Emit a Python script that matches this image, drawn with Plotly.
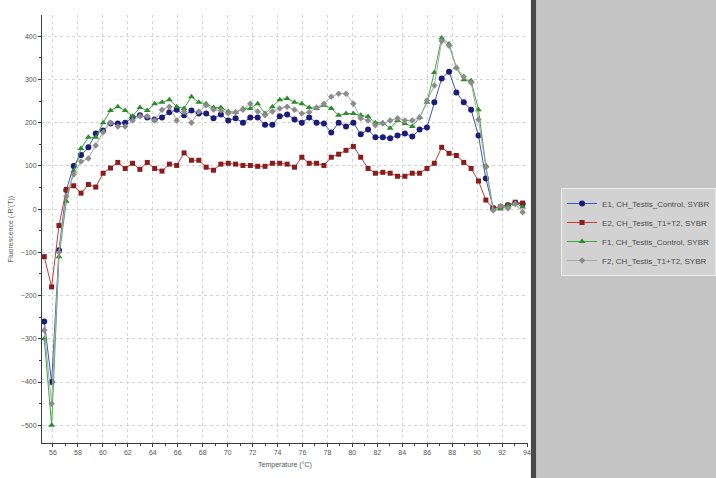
import plotly.graph_objects as go

temps = [55.30, 55.89, 56.48, 57.07, 57.66, 58.25, 58.84, 59.43, 60.02, 60.61,
         61.20, 61.79, 62.38, 62.97, 63.56, 64.15, 64.74, 65.33, 65.92, 66.51,
         67.10, 67.69, 68.28, 68.87, 69.46, 70.05, 70.64, 71.23, 71.82, 72.41,
         73.00, 73.59, 74.18, 74.77, 75.36, 75.95, 76.54, 77.13, 77.72, 78.31,
         78.90, 79.49, 80.08, 80.67, 81.26, 81.85, 82.44, 83.03, 83.62, 84.21,
         84.80, 85.39, 85.98, 86.57, 87.16, 87.75, 88.34, 88.93, 89.52, 90.11,
         90.70, 91.29, 91.88, 92.47, 93.06, 93.65]

e1_control = [-260, -400, -95, 44, 100, 125, 143, 175, 182, 198,
              198, 200, 212, 217, 212, 207, 212, 224, 230, 217,
              228, 221, 221, 210, 219, 205, 210, 200, 212, 212,
              195, 195, 215, 219, 207, 200, 212, 200, 198, 177,
              200, 191, 200, 173, 184, 166, 166, 164, 170, 175,
              168, 184, 189, 247, 302, 318, 270, 247, 230, 170,
              71, 2, 5, 9, 14, 12]

e2_t1t2 = [-110, -180, -38, 45, 54, 37, 57, 51, 83, 95,
           108, 94, 106, 92, 108, 94, 88, 104, 101, 130,
           113, 113, 97, 90, 104, 106, 104, 101, 101, 99,
           99, 106, 106, 104, 97, 120, 106, 106, 101, 120,
           127, 136, 145, 120, 94, 83, 85, 83, 76, 76,
           83, 83, 94, 106, 143, 129, 124, 108, 94, 65,
           21, 2, 5, 9, 16, 14]

f1_control = [-300, -500, -110, 18, 88, 140, 166, 166, 200, 228,
              237, 228, 215, 235, 228, 244, 247, 253, 237, 233,
              260, 247, 244, 235, 235, 226, 224, 233, 233, 244,
              221, 237, 253, 256, 247, 244, 235, 233, 240, 233,
              217, 221, 221, 217, 214, 200, 200, 187, 205, 198,
              191, 212, 247, 316, 396, 382, 327, 299, 297, 230,
              101, 0, 0, 8, 14, 5]

f2_t1t2 = [-280, -450, -100, 30, 80, 110, 117, 147, 178, 200,
           191, 191, 205, 215, 215, 205, 230, 237, 205, 226,
           200, 226, 240, 230, 228, 222, 224, 230, 244, 226,
           217, 226, 233, 237, 230, 221, 224, 235, 244, 260,
           267, 267, 244, 210, 205, 194, 198, 205, 210, 205,
           205, 212, 251, 286, 389, 378, 327, 306, 292, 207,
           97, -3, 7, 2, 12, -7]

series_names = ["E1, CH_Testis_Control, SYBR",
                "E2, CH_Testis_T1+T2, SYBR",
                "F1, CH_Testis_Control, SYBR",
                "F2, CH_Testis_T1+T2, SYBR"]

x_ticks = [56, 58, 60, 62, 64, 66, 68, 70, 72, 74, 76, 78, 80, 82, 84, 86, 88, 90, 92, 94]

styles = [
    dict(line="#3a55c8", marker="#1c1c78", symbol="circle", size=6),
    dict(line="#c83a3a", marker="#8a1c1c", symbol="square", size=5),
    dict(line="#3aa83a", marker="#2e8a2e", symbol="triangle-up", size=6),
    dict(line="#a8a8a8", marker="#8c8c8c", symbol="diamond", size=5),
]

fig = go.Figure()
for name, vals, st in zip(series_names, [e1_control, e2_t1t2, f1_control, f2_t1t2], styles):
    fig.add_trace(go.Scatter(
        x=temps, y=vals, name=name, mode="lines+markers",
        line=dict(color=st["line"], width=1),
        marker=dict(symbol=st["symbol"], size=st["size"], color=st["marker"], line=dict(width=0)),
    ))

axis_common = dict(
    showline=True, linecolor="#3c3c3c", linewidth=1,
    ticks="outside", ticklen=3, tickcolor="#3c3c3c",
    showgrid=True, gridcolor="#d4d4d4", griddash="dot", gridwidth=1,
    zeroline=False,
    tickfont=dict(family="Arial, Liberation Sans, sans-serif", size=7, color="#555555"),
)

fig.update_layout(
    width=716, height=478,
    margin=dict(l=42, r=188, t=15, b=35, autoexpand=False),
    paper_bgcolor="white", plot_bgcolor="white",
    font=dict(family="Arial, Liberation Sans, sans-serif", size=7, color="#555555"),
    xaxis=dict(
        range=[55.12, 94.08], tickvals=x_ticks,
        minor=dict(dtick=1, tick0=0, ticks="outside", ticklen=2, tickcolor="#3c3c3c", showgrid=False),
        title=dict(text="Temperature (°C)", font=dict(size=7, color="#555555"), standoff=6),
        **axis_common,
    ),
    yaxis=dict(
        range=[-541, 449], dtick=100, tick0=0,
        minor=dict(dtick=50, tick0=0, ticks="outside", ticklen=2, tickcolor="#3c3c3c", showgrid=False),
        title=dict(text="Fluorescence (-R'(T))", font=dict(size=7, color="#555555"), standoff=6),
        **axis_common,
    ),
    legend=dict(
        x=1.068, y=0.493, xanchor="left", yanchor="middle",
        bgcolor="#d2d2d2", bordercolor="#ececec", borderwidth=1,
        font=dict(size=8, color="#4a4a4a"), itemwidth=30,
        tracegroupgap=0,
    ),
    shapes=[
        dict(type="rect", xref="paper", yref="paper", x0=1.0165, x1=1.6, y0=-0.2, y1=1.2,
             fillcolor="#c4c4c4", line=dict(width=0), layer="below"),
        dict(type="rect", xref="paper", yref="paper", x0=1.006, x1=1.0165, y0=-0.2, y1=1.2,
             fillcolor="#4a4a4a", line=dict(width=0), layer="below"),
    ],
    showlegend=True,
)

fig.write_html(
    "out.html",
    config={"displayModeBar": False},
    post_script="document.body.style.margin='0';document.body.style.overflow='hidden';",
)
